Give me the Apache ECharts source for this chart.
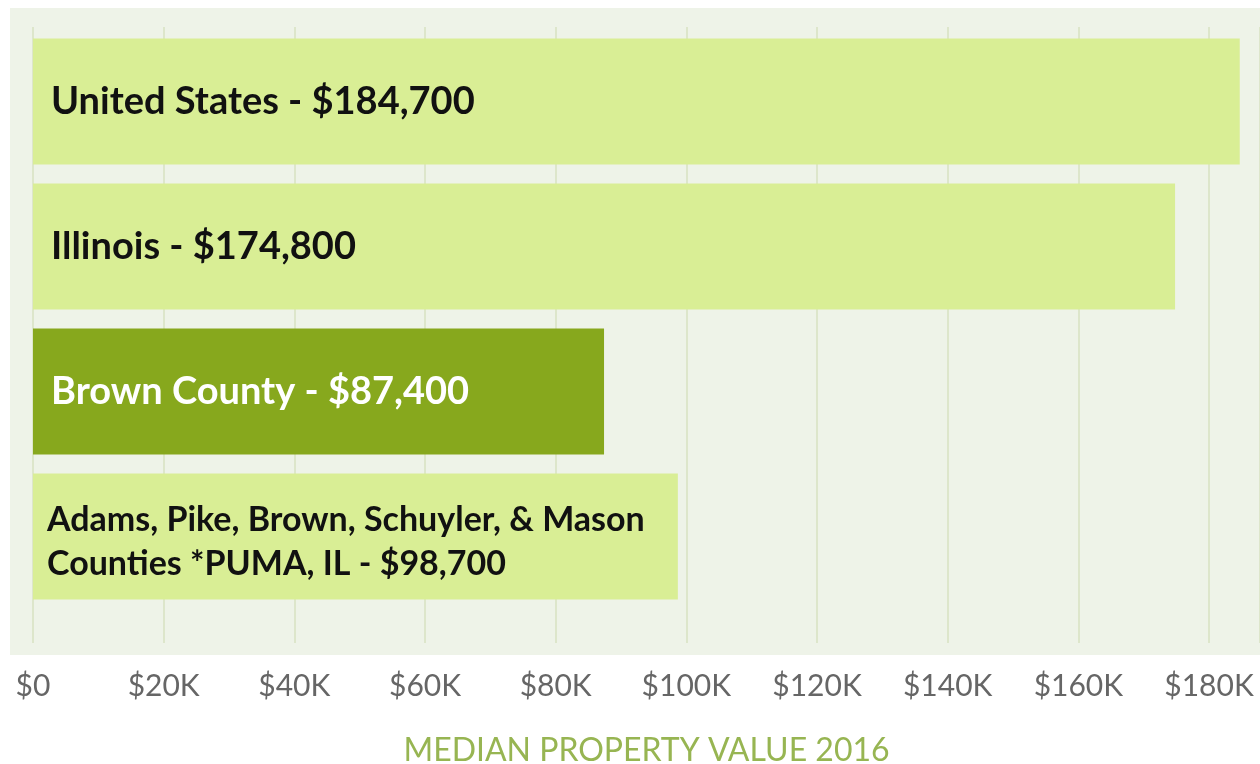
<!DOCTYPE html>
<html>
<head>
<meta charset="utf-8">
<script src="https://cdn.jsdelivr.net/npm/echarts@6/dist/echarts.min.js"></script>
<style>
  html, body { margin: 0; padding: 0; background: #fff; }
  #chart { width: 1260px; height: 764px; }
</style>
</head>
<body>
<div id="chart"></div>
<script>
const places = [
    "United States",
    "Illinois",
    "Brown County",
    "Adams, Pike, Brown, Schuyler, & Mason\nCounties *PUMA, IL"
];
const medianValues = [184700, 174800, 87400, 98700];
const highlighted = "Brown County";
const tickStep = 20000;
const axisTitle = "MEDIAN PROPERTY VALUE 2016";

const lightBar = "#d9ee95";
const darkBar = "#87a81d";
const font = "Lato";

const money = (v) => "$" + v.toLocaleString("en-US");
const tickLabel = (v) => (v % tickStep !== 0 ? "" : v === 0 ? "$0" : "$" + v / 1000 + "K");

const chart = echarts.init(document.getElementById("chart"));

const xMax = 187800;

chart.setOption({
    animation: false,
    graphic: [{
        type: "rect",
        z: -10,
        shape: { x: 10, y: 8, width: 1250, height: 647 },
        style: { fill: "#eef3e8" }
    }],
    grid: [
        { left: 33, right: 0, top: 29, bottom: 155, outerBoundsMode: "none" },   // bars
        { left: 33, right: 0, top: 27, bottom: 121, outerBoundsMode: "none" }    // gridlines + labels
    ],
    xAxis: [
        { gridIndex: 0, type: "value", min: 0, max: xMax, interval: tickStep, show: false },
        {
            gridIndex: 1, type: "value", min: 0, max: xMax, interval: tickStep,
            axisLine: { show: false }, axisTick: { show: false },
            splitLine: { lineStyle: { color: "#dde6cb", width: 2 } },
            axisLabel: {
                formatter: tickLabel, color: "#666", fontFamily: font, fontSize: 30,
                margin: 28, showMaxLabel: false
            },
            name: axisTitle, nameLocation: "middle", nameGap: 92,
            nameTextStyle: { color: "#97b552", fontFamily: font, fontSize: 32 }
        }
    ],
    yAxis: [
        { gridIndex: 0, type: "category", data: places, inverse: true, show: false },
        { gridIndex: 1, type: "category", data: places, inverse: true, show: false }
    ],
    series: [{
        type: "bar",
        xAxisIndex: 0,
        yAxisIndex: 0,
        barWidth: 126,
        data: medianValues.map((v, i) => ({
            value: v,
            itemStyle: { color: places[i] === highlighted ? darkBar : lightBar },
            label: places[i] === highlighted ? { color: "#fff" } :
                   places[i].includes("\n") ? { fontSize: 34, lineHeight: 44, distance: 14, offset: [0, 6] } : {}
        })),
        label: {
            show: true,
            position: "insideLeft",
            distance: 18,
            fontFamily: font,
            fontWeight: "bold",
            fontSize: 38,
            color: "#111",
            formatter: (p) => p.name + " - " + money(p.value)
        }
    }]
});
</script>
</body>
</html>
